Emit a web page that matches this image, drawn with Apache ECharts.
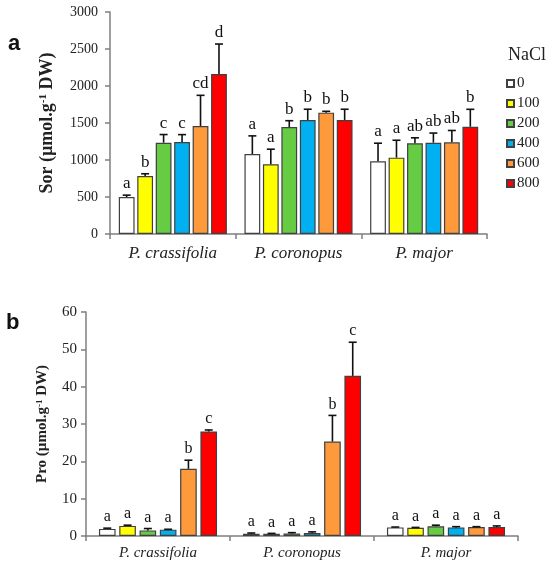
<!DOCTYPE html>
<html>
<head>
<meta charset="utf-8">
<title>Sor and Pro under NaCl</title>
<script src="https://cdn.jsdelivr.net/npm/echarts@6/dist/echarts.min.js"></script>
<style>
  html, body { margin: 0; padding: 0; background: #fff; }
  #chart { width: 550px; height: 566px; }
</style>
</head>
<body>
<div id="chart"></div>
<script>
// Species on the x axis
var species = ['P. crassifolia', 'P. coronopus', 'P. major'];
// NaCl levels (legend)
var levels = ['0', '100', '200', '400', '600', '800'];
var levelColors = ['#FFFFFF', '#FFFF00', '#66CC44', '#00B0F0', '#FF9A3C', '#FF0000'];

// Panel a: sorbitol, rows = species, columns = NaCl level
var sorMean = [
  [500, 784, 1234, 1243, 1459, 2162],
  [1081, 941, 1446, 1541, 1640, 1541],
  [982, 1032, 1225, 1234, 1239, 1450]
];
var sorErr = [
  [25, 30, 110, 100, 415, 405],
  [245, 205, 85, 145, 18, 145],
  [245, 235, 75, 130, 160, 235]
];
var sorLetters = [
  ['a', 'b', 'c', 'c', 'cd', 'd'],
  ['a', 'a', 'b', 'b', 'b', 'b'],
  ['a', 'a', 'ab', 'ab', 'ab', 'b']
];
var sorTicks = [0, 3000, 500];

// Panel b: proline
var proMean = [
  [1.9, 2.7, 1.5, 1.7, 18.0, 28.0],
  [0.6, 0.6, 0.7, 0.8, 25.3, 42.9],
  [2.3, 2.2, 2.6, 2.3, 2.4, 2.4]
];
var proErr = [
  [0.2, 0.2, 0.5, 0.1, 2.3, 0.4],
  [0.2, 0.1, 0.2, 0.3, 7.0, 9.0],
  [0.1, 0.1, 0.3, 0.2, 0.1, 0.3]
];
var proLetters = [
  ['a', 'a', 'a', 'a', 'b', 'c'],
  ['a', 'a', 'a', 'a', 'b', 'c'],
  ['a', 'a', 'a', 'a', 'a', 'a']
];
var proTicks = [0, 60, 10];

(function () {
  'use strict';

  var serif = '"Liberation Serif", "DejaVu Serif", serif';
  var sans = '"Liberation Sans", Arial, sans-serif';
  var axisGrey = '#7F7F7F';

  // bar layout + text sizes per panel, shared by bars and error bar overlay
  var panels = [
    { mean: sorMean, err: sorErr, letters: sorLetters, ticks: sorTicks, catGap: 0.14, barGap: 0.17, letterSize: 17 },
    { mean: proMean, err: proErr, letters: proLetters, ticks: proTicks, catGap: 0.18, barGap: 0.22, letterSize: 16 }
  ];

  var chart = echarts.init(document.getElementById('chart'));

  function yName(prefix) {
    return prefix + ' (\u00b5mol.g{sup|-1} DW)';
  }

  function xAxis(gridIndex, fontSize, margin) {
    return {
      type: 'category',
      gridIndex: gridIndex,
      data: species,
      axisLine: { lineStyle: { color: axisGrey, width: 1.5 } },
      axisTick: { show: true, length: 5, lineStyle: { color: axisGrey, width: 1.5 } },
      axisLabel: { color: '#222', fontFamily: serif, fontStyle: 'italic', fontSize: fontSize, margin: margin }
    };
  }

  function yAxis(gridIndex, ticks, name, nameSize, nameGap, labelSize, margin) {
    return {
      type: 'value',
      gridIndex: gridIndex,
      min: ticks[0],
      max: ticks[1],
      interval: ticks[2],
      name: name,
      nameLocation: 'middle',
      nameGap: nameGap,
      nameTextStyle: {
        color: '#222',
        fontFamily: serif,
        fontWeight: 'bold',
        fontSize: nameSize,
        rich: {
          sup: { fontFamily: serif, fontWeight: 'bold', fontSize: Math.round(nameSize * 0.6), verticalAlign: 'top', color: '#222' }
        }
      },
      axisLine: { show: true, lineStyle: { color: axisGrey, width: 1.5 } },
      axisTick: { show: true, length: 5, lineStyle: { color: axisGrey, width: 1.5 } },
      axisLabel: {
        color: '#222',
        fontFamily: serif,
        fontSize: labelSize,
        margin: margin,
        formatter: function (v) { return String(v); }
      },
      splitLine: { show: false }
    };
  }

  var series = [];

  panels.forEach(function (p, pi) {
    // one bar series per NaCl level
    levels.forEach(function (lv, li) {
      series.push({
        name: lv,
        type: 'bar',
        xAxisIndex: pi,
        yAxisIndex: pi,
        data: p.mean.map(function (row) { return row[li]; }),
        barCategoryGap: (p.catGap * 100) + '%',
        barGap: (p.barGap * 100) + '%',
        itemStyle: { color: levelColors[li], borderColor: '#404040', borderWidth: 1.2 },
        emphasis: { disabled: true },
        z: 2
      });
    });

    // error bars + significance letters
    var errData = [];
    p.mean.forEach(function (row, si) {
      row.forEach(function (m, li) {
        errData.push([si, m, m + p.err[si][li], li, p.letters[si][li]]);
      });
    });

    series.push({
      type: 'custom',
      xAxisIndex: pi,
      yAxisIndex: pi,
      data: errData,
      encode: { x: 0, y: [1, 2] },
      silent: true,
      z: 5,
      renderItem: function (params, api) {
        var cat = api.value(0);
        var li = api.value(3);
        var band = api.size([1, 0])[0];
        var usable = band * (1 - p.catGap);
        var barW = usable / (6 + 5 * p.barGap);
        var base = api.coord([cat, api.value(1)]);
        var top = api.coord([cat, api.value(2)]);
        var x = base[0] - usable / 2 + li * barW * (1 + p.barGap) + barW / 2;
        var cap = 4;
        var lineStyle = { stroke: '#111', lineWidth: 1.6 };
        return {
          type: 'group',
          children: [
            { type: 'line', shape: { x1: x, y1: base[1], x2: x, y2: top[1] }, style: lineStyle },
            { type: 'line', shape: { x1: x - cap, y1: top[1], x2: x + cap, y2: top[1] }, style: lineStyle },
            {
              type: 'text',
              x: x,
              y: top[1] - 3,
              style: {
                text: api.value(4),
                fill: '#111',
                font: p.letterSize + 'px ' + serif,
                align: 'center',
                verticalAlign: 'bottom'
              }
            }
          ]
        };
      }
    });
  });

  var option = {
    backgroundColor: '#fff',
    animation: false,
    title: [
      { text: 'NaCl', left: 503, top: 41, textStyle: { fontFamily: serif, fontWeight: 'normal', fontSize: 18, color: '#222' } },
      { text: 'a', left: 3, top: 28, textStyle: { fontFamily: sans, fontWeight: 'bold', fontSize: 22, color: '#111' } },
      { text: 'b', left: 1, top: 307, textStyle: { fontFamily: sans, fontWeight: 'bold', fontSize: 22, color: '#111' } }
    ],
    legend: {
      data: levels,
      orient: 'vertical',
      left: 501,
      top: 71,
      itemWidth: 7,
      itemHeight: 7,
      itemGap: 5,
      icon: 'rect',
      selectedMode: false,
      textStyle: { fontFamily: serif, fontSize: 15, lineHeight: 15, color: '#222', padding: [0, 0, 0, -2] }
    },
    grid: [
      { left: 110, right: 63, top: 12, height: 222 },
      { left: 86, right: 32, top: 312, height: 224 }
    ],
    xAxis: [xAxis(0, 17, 11), xAxis(1, 15, 10)],
    yAxis: [
      yAxis(0, sorTicks, yName('Sor'), 18, 54, 14, 12),
      yAxis(1, proTicks, yName('Pro'), 15, 36, 15, 9)
    ],
    series: series
  };

  chart.setOption(option);
})();
</script>
</body>
</html>
